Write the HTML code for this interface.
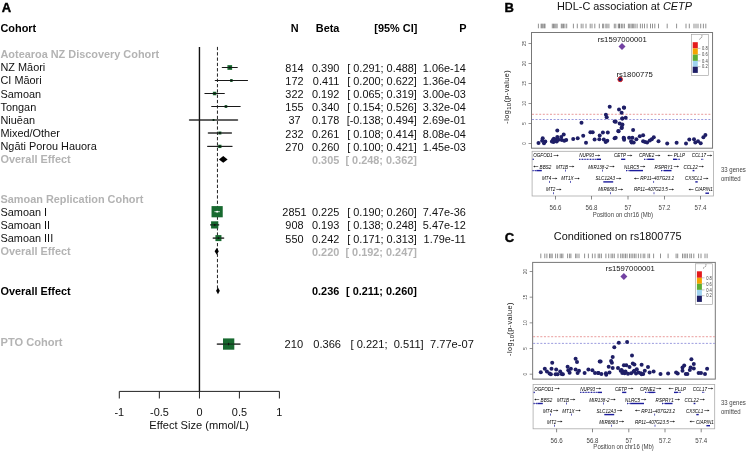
<!DOCTYPE html>
<html><head><meta charset="utf-8"><style>
html,body{margin:0;padding:0;background:#fff;}
body{width:747px;height:451px;overflow:hidden;}
svg{display:block;will-change:transform;font-family:"Liberation Sans", sans-serif;}
</style></head><body>
<svg width="747" height="451" viewBox="0 0 747 451">
<text x="1.80" y="12.20" font-size="13" text-anchor="start" font-weight="bold" font-style="normal" fill="#000" stroke="#000" stroke-width="0.4">A</text>
<text x="0.50" y="32.10" font-size="10.9" text-anchor="start" font-weight="bold" font-style="normal" fill="#000" >Cohort</text>
<text x="298.60" y="31.90" font-size="10.9" text-anchor="end" font-weight="bold" font-style="normal" fill="#000" >N</text>
<text x="339.40" y="31.90" font-size="10.9" text-anchor="end" font-weight="bold" font-style="normal" fill="#000" >Beta</text>
<text x="417.30" y="31.90" font-size="10.9" text-anchor="end" font-weight="bold" font-style="normal" fill="#000" >[95% CI]</text>
<text x="466.60" y="31.90" font-size="10.9" text-anchor="end" font-weight="bold" font-style="normal" fill="#000" >P</text>
<line x1="199.45" y1="46.9" x2="199.45" y2="391.4" stroke="#111" stroke-width="1.4"/>
<line x1="217.45" y1="46.9" x2="217.45" y2="290.5" stroke="#222" stroke-width="1" stroke-dasharray="3.3 2"/>
<text x="0.50" y="58.16" font-size="10.9" text-anchor="start" font-weight="bold" font-style="normal" fill="#b3b3b3" >Aotearoa NZ Discovery Cohort</text>
<text x="0.50" y="71.30" font-size="10.9" text-anchor="start" font-weight="normal" font-style="normal" fill="#111" >NZ Māori</text>
<text x="294.45" y="71.80" font-size="10.9" text-anchor="middle" font-weight="normal" font-style="normal" fill="#111" >814</text>
<text x="339.30" y="71.80" font-size="10.9" text-anchor="end" font-weight="normal" font-style="normal" fill="#111" >0.390</text>
<text x="416.90" y="71.80" font-size="10.9" text-anchor="end" font-weight="normal" font-style="normal" fill="#111" >[ 0.291; 0.488]</text>
<text x="465.80" y="71.80" font-size="10.9" text-anchor="end" font-weight="normal" font-style="normal" fill="#111" >1.06e-14</text>
<line x1="222.19" y1="67.50" x2="237.28" y2="67.50" stroke="#333" stroke-width="1" stroke-linecap="round"/>
<rect x="227.42" y="65.15" width="4.7" height="4.7" fill="#17692f"/>
<line x1="222.19" y1="67.50" x2="237.28" y2="67.50" stroke="#111" stroke-width="0.8"/>
<circle cx="229.77" cy="67.50" r="0.90" fill="#111"/>
<text x="0.50" y="84.44" font-size="10.9" text-anchor="start" font-weight="normal" font-style="normal" fill="#111" >CI Māori</text>
<text x="294.45" y="84.94" font-size="10.9" text-anchor="middle" font-weight="normal" font-style="normal" fill="#111" >172</text>
<text x="339.30" y="84.94" font-size="10.9" text-anchor="end" font-weight="normal" font-style="normal" fill="#111" >0.411</text>
<text x="416.90" y="84.94" font-size="10.9" text-anchor="end" font-weight="normal" font-style="normal" fill="#111" >[ 0.200; 0.622]</text>
<text x="465.80" y="84.94" font-size="10.9" text-anchor="end" font-weight="normal" font-style="normal" fill="#111" >1.36e-04</text>
<line x1="215.22" y1="80.50" x2="247.55" y2="80.50" stroke="#333" stroke-width="1" stroke-linecap="round"/>
<rect x="230.03" y="79.15" width="2.7" height="2.7" fill="#17692f"/>
<line x1="215.22" y1="80.50" x2="247.55" y2="80.50" stroke="#111" stroke-width="0.8"/>
<circle cx="231.38" cy="80.50" r="0.90" fill="#111"/>
<text x="0.50" y="97.58" font-size="10.9" text-anchor="start" font-weight="normal" font-style="normal" fill="#111" >Samoan</text>
<text x="294.45" y="98.08" font-size="10.9" text-anchor="middle" font-weight="normal" font-style="normal" fill="#111" >322</text>
<text x="339.30" y="98.08" font-size="10.9" text-anchor="end" font-weight="normal" font-style="normal" fill="#111" >0.192</text>
<text x="416.90" y="98.08" font-size="10.9" text-anchor="end" font-weight="normal" font-style="normal" fill="#111" >[ 0.065; 0.319]</text>
<text x="465.80" y="98.08" font-size="10.9" text-anchor="end" font-weight="normal" font-style="normal" fill="#111" >3.00e-03</text>
<line x1="204.88" y1="93.50" x2="224.34" y2="93.50" stroke="#333" stroke-width="1" stroke-linecap="round"/>
<rect x="212.86" y="91.75" width="3.5" height="3.5" fill="#17692f"/>
<line x1="204.88" y1="93.50" x2="224.34" y2="93.50" stroke="#111" stroke-width="0.8"/>
<circle cx="214.61" cy="93.50" r="0.90" fill="#111"/>
<text x="0.50" y="110.72" font-size="10.9" text-anchor="start" font-weight="normal" font-style="normal" fill="#111" >Tongan</text>
<text x="294.45" y="111.22" font-size="10.9" text-anchor="middle" font-weight="normal" font-style="normal" fill="#111" >155</text>
<text x="339.30" y="111.22" font-size="10.9" text-anchor="end" font-weight="normal" font-style="normal" fill="#111" >0.340</text>
<text x="416.90" y="111.22" font-size="10.9" text-anchor="end" font-weight="normal" font-style="normal" fill="#111" >[ 0.154; 0.526]</text>
<text x="465.80" y="111.22" font-size="10.9" text-anchor="end" font-weight="normal" font-style="normal" fill="#111" >3.32e-04</text>
<line x1="211.70" y1="106.50" x2="240.19" y2="106.50" stroke="#333" stroke-width="1" stroke-linecap="round"/>
<rect x="224.59" y="105.15" width="2.7" height="2.7" fill="#17692f"/>
<line x1="211.70" y1="106.50" x2="240.19" y2="106.50" stroke="#111" stroke-width="0.8"/>
<circle cx="225.94" cy="106.50" r="0.90" fill="#111"/>
<text x="0.50" y="123.86" font-size="10.9" text-anchor="start" font-weight="normal" font-style="normal" fill="#111" >Niuēan</text>
<text x="294.45" y="124.36" font-size="10.9" text-anchor="middle" font-weight="normal" font-style="normal" fill="#111" >37</text>
<text x="339.30" y="124.36" font-size="10.9" text-anchor="end" font-weight="normal" font-style="normal" fill="#111" >0.178</text>
<text x="416.90" y="124.36" font-size="10.9" text-anchor="end" font-weight="normal" font-style="normal" fill="#111" >[-0.138; 0.494]</text>
<text x="465.80" y="124.36" font-size="10.9" text-anchor="end" font-weight="normal" font-style="normal" fill="#111" >2.69e-01</text>
<line x1="189.33" y1="120.00" x2="237.74" y2="120.00" stroke="#333" stroke-width="1" stroke-linecap="round"/>
<rect x="212.53" y="119.00" width="2.0" height="2.0" fill="#17692f"/>
<line x1="189.33" y1="120.00" x2="237.74" y2="120.00" stroke="#111" stroke-width="0.8"/>
<circle cx="213.53" cy="120.00" r="0.67" fill="#111"/>
<text x="0.50" y="137.00" font-size="10.9" text-anchor="start" font-weight="normal" font-style="normal" fill="#111" >Mixed/Other</text>
<text x="294.45" y="137.50" font-size="10.9" text-anchor="middle" font-weight="normal" font-style="normal" fill="#111" >232</text>
<text x="339.30" y="137.50" font-size="10.9" text-anchor="end" font-weight="normal" font-style="normal" fill="#111" >0.261</text>
<text x="416.90" y="137.50" font-size="10.9" text-anchor="end" font-weight="normal" font-style="normal" fill="#111" >[ 0.108; 0.414]</text>
<text x="465.80" y="137.50" font-size="10.9" text-anchor="end" font-weight="normal" font-style="normal" fill="#111" >8.08e-04</text>
<line x1="208.17" y1="133.00" x2="231.61" y2="133.00" stroke="#333" stroke-width="1" stroke-linecap="round"/>
<rect x="218.39" y="131.50" width="3.0" height="3.0" fill="#17692f"/>
<line x1="208.17" y1="133.00" x2="231.61" y2="133.00" stroke="#111" stroke-width="0.8"/>
<circle cx="219.89" cy="133.00" r="0.90" fill="#111"/>
<text x="0.50" y="150.14" font-size="10.9" text-anchor="start" font-weight="normal" font-style="normal" fill="#111" >Ngāti Porou Hauora</text>
<text x="294.45" y="150.64" font-size="10.9" text-anchor="middle" font-weight="normal" font-style="normal" fill="#111" >270</text>
<text x="339.30" y="150.64" font-size="10.9" text-anchor="end" font-weight="normal" font-style="normal" fill="#111" >0.260</text>
<text x="416.90" y="150.64" font-size="10.9" text-anchor="end" font-weight="normal" font-style="normal" fill="#111" >[ 0.100; 0.421]</text>
<text x="465.80" y="150.64" font-size="10.9" text-anchor="end" font-weight="normal" font-style="normal" fill="#111" >1.45e-03</text>
<line x1="207.56" y1="146.40" x2="232.15" y2="146.40" stroke="#333" stroke-width="1" stroke-linecap="round"/>
<rect x="218.17" y="144.75" width="3.3" height="3.3" fill="#17692f"/>
<line x1="207.56" y1="146.40" x2="232.15" y2="146.40" stroke="#111" stroke-width="0.8"/>
<circle cx="219.82" cy="146.40" r="0.90" fill="#111"/>
<text x="0.50" y="163.28" font-size="10.9" text-anchor="start" font-weight="bold" font-style="normal" fill="#b3b3b3" >Overall Effect</text>
<text x="339.30" y="163.78" font-size="10.9" text-anchor="end" font-weight="bold" font-style="normal" fill="#b3b3b3" >0.305</text>
<text x="416.90" y="163.78" font-size="10.9" text-anchor="end" font-weight="bold" font-style="normal" fill="#b3b3b3" >[ 0.248; 0.362]</text>
<polygon points="218.90,159.38 223.26,155.98 227.63,159.38 223.26,162.78" fill="#000"/>
<text x="0.50" y="202.70" font-size="10.9" text-anchor="start" font-weight="bold" font-style="normal" fill="#b3b3b3" >Samoan Replication Cohort</text>
<text x="0.50" y="215.84" font-size="10.9" text-anchor="start" font-weight="normal" font-style="normal" fill="#111" >Samoan I</text>
<text x="294.45" y="216.34" font-size="10.9" text-anchor="middle" font-weight="normal" font-style="normal" fill="#111" >2851</text>
<text x="339.30" y="216.34" font-size="10.9" text-anchor="end" font-weight="normal" font-style="normal" fill="#111" >0.225</text>
<text x="416.90" y="216.34" font-size="10.9" text-anchor="end" font-weight="normal" font-style="normal" fill="#111" >[ 0.190; 0.260]</text>
<text x="465.80" y="216.34" font-size="10.9" text-anchor="end" font-weight="normal" font-style="normal" fill="#111" >7.47e-36</text>
<line x1="214.45" y1="211.70" x2="219.82" y2="211.70" stroke="#333" stroke-width="1" stroke-linecap="round"/>
<rect x="211.53" y="206.10" width="11.2" height="11.2" fill="#17692f"/>
<line x1="214.45" y1="211.70" x2="219.82" y2="211.70" stroke="#fff" stroke-width="0.8"/>
<circle cx="217.13" cy="211.70" r="0.90" fill="#fff"/>
<text x="0.50" y="228.98" font-size="10.9" text-anchor="start" font-weight="normal" font-style="normal" fill="#111" >Samoan II</text>
<text x="294.45" y="229.48" font-size="10.9" text-anchor="middle" font-weight="normal" font-style="normal" fill="#111" >908</text>
<text x="339.30" y="229.48" font-size="10.9" text-anchor="end" font-weight="normal" font-style="normal" fill="#111" >0.193</text>
<text x="416.90" y="229.48" font-size="10.9" text-anchor="end" font-weight="normal" font-style="normal" fill="#111" >[ 0.138; 0.248]</text>
<text x="465.80" y="229.48" font-size="10.9" text-anchor="end" font-weight="normal" font-style="normal" fill="#111" >5.47e-12</text>
<line x1="210.47" y1="224.90" x2="218.90" y2="224.90" stroke="#333" stroke-width="1" stroke-linecap="round"/>
<rect x="211.08" y="221.30" width="7.2" height="7.2" fill="#17692f"/>
<line x1="210.47" y1="224.90" x2="218.90" y2="224.90" stroke="#111" stroke-width="0.8"/>
<circle cx="214.68" cy="224.90" r="0.90" fill="#111"/>
<text x="0.50" y="242.12" font-size="10.9" text-anchor="start" font-weight="normal" font-style="normal" fill="#111" >Samoan III</text>
<text x="294.45" y="242.62" font-size="10.9" text-anchor="middle" font-weight="normal" font-style="normal" fill="#111" >550</text>
<text x="339.30" y="242.62" font-size="10.9" text-anchor="end" font-weight="normal" font-style="normal" fill="#111" >0.242</text>
<text x="416.90" y="242.62" font-size="10.9" text-anchor="end" font-weight="normal" font-style="normal" fill="#111" >[ 0.171; 0.313]</text>
<text x="465.80" y="242.62" font-size="10.9" text-anchor="end" font-weight="normal" font-style="normal" fill="#111" >1.79e-11</text>
<line x1="213.00" y1="238.10" x2="223.88" y2="238.10" stroke="#333" stroke-width="1" stroke-linecap="round"/>
<rect x="215.44" y="235.10" width="6.0" height="6.0" fill="#17692f"/>
<line x1="213.00" y1="238.10" x2="223.88" y2="238.10" stroke="#111" stroke-width="0.8"/>
<circle cx="218.44" cy="238.10" r="0.90" fill="#111"/>
<text x="0.50" y="255.26" font-size="10.9" text-anchor="start" font-weight="bold" font-style="normal" fill="#b3b3b3" >Overall Effect</text>
<text x="339.30" y="255.76" font-size="10.9" text-anchor="end" font-weight="bold" font-style="normal" fill="#b3b3b3" >0.220</text>
<text x="416.90" y="255.76" font-size="10.9" text-anchor="end" font-weight="bold" font-style="normal" fill="#b3b3b3" >[ 0.192; 0.247]</text>
<polygon points="214.61,251.36 216.75,247.96 218.82,251.36 216.75,254.76" fill="#000"/>
<text x="0.50" y="294.68" font-size="10.9" text-anchor="start" font-weight="bold" font-style="normal" fill="#000" >Overall Effect</text>
<text x="339.30" y="295.18" font-size="10.9" text-anchor="end" font-weight="bold" font-style="normal" fill="#000" >0.236</text>
<text x="416.90" y="295.18" font-size="10.9" text-anchor="end" font-weight="bold" font-style="normal" fill="#000" >[ 0.211; 0.260]</text>
<polygon points="216.06,290.78 217.98,287.38 219.82,290.78 217.98,294.18" fill="#000"/>
<text x="0.50" y="345.60" font-size="11.1" text-anchor="start" font-weight="bold" font-style="normal" fill="#b3b3b3" >PTO Cohort</text>
<text x="293.85" y="348.20" font-size="11.1" text-anchor="middle" font-weight="normal" font-style="normal" fill="#111" >210</text>
<text x="341.00" y="348.20" font-size="11.1" text-anchor="end" font-weight="normal" font-style="normal" fill="#111" >0.366</text>
<text x="423.70" y="348.20" font-size="11.1" text-anchor="end" font-weight="normal" font-style="normal" fill="#111" xml:space="preserve">[ 0.221;  0.511]</text>
<text x="473.80" y="348.20" font-size="11.1" text-anchor="end" font-weight="normal" font-style="normal" fill="#111" >7.77e-07</text>
<line x1="217.1" y1="344.1" x2="240.2" y2="344.1" stroke="#333" stroke-width="1" stroke-linecap="round"/>
<rect x="223.0" y="338.4" width="11.3" height="11.3" fill="#17692f"/>
<line x1="217.1" y1="344.1" x2="240.2" y2="344.1" stroke="#111" stroke-width="0.8"/>
<ellipse cx="228.6" cy="344.1" rx="0.7" ry="1.4" fill="#111"/>
<path d="M119.3 391.4 H279.4 M119.3 391.4 V398.5 M159.35 391.4 V398.5 M199.45 391.4 V398.5 M239.4 391.4 V398.5 M279.4 391.4 V398.5" stroke="#222" stroke-width="1" fill="none"/>
<text x="119.30" y="415.80" font-size="10.9" text-anchor="middle" font-weight="normal" font-style="normal" fill="#111" >-1</text>
<text x="159.40" y="415.80" font-size="10.9" text-anchor="middle" font-weight="normal" font-style="normal" fill="#111" >-0.5</text>
<text x="199.50" y="415.80" font-size="10.9" text-anchor="middle" font-weight="normal" font-style="normal" fill="#111" >0</text>
<text x="239.40" y="415.80" font-size="10.9" text-anchor="middle" font-weight="normal" font-style="normal" fill="#111" >0.5</text>
<text x="279.30" y="415.80" font-size="10.9" text-anchor="middle" font-weight="normal" font-style="normal" fill="#111" >1</text>
<text x="199.20" y="429.40" font-size="11.1" text-anchor="middle" font-weight="normal" font-style="normal" fill="#111" >Effect Size (mmol/L)</text>
<text x="504.50" y="12.20" font-size="13" text-anchor="start" font-weight="bold" font-style="normal" fill="#000" stroke="#000" stroke-width="0.4">B</text>
<text x="557.0" y="10.2" font-size="10.9" fill="#111"><tspan font-style="normal">HDL-C association at </tspan><tspan font-style="italic">CETP</tspan></text>
<path d="M538.40 23.70V28.30M541.10 23.70V28.30M542.00 23.70V28.30M543.00 23.70V28.30M544.20 23.70V28.30M545.00 23.70V28.30M552.30 23.70V28.30M553.50 23.70V28.30M554.70 23.70V28.30M555.90 23.70V28.30M557.10 23.70V28.30M561.30 23.70V28.30M562.30 23.70V28.30M563.50 23.70V28.30M564.90 23.70V28.30M566.70 23.70V28.30M573.40 23.70V28.30M577.30 23.70V28.30M581.20 23.70V28.30M583.00 23.70V28.30M586.00 23.70V28.30M590.20 23.70V28.30M592.00 23.70V28.30M594.80 23.70V28.30M599.30 23.70V28.30M602.60 23.70V28.30M603.70 23.70V28.30M605.90 23.70V28.30M607.10 23.70V28.30M608.90 23.70V28.30M614.30 23.70V28.30M615.80 23.70V28.30M619.20 23.70V28.30M618.30 23.70V28.30M619.70 23.70V28.30M621.40 23.70V28.30M622.80 23.70V28.30M624.40 23.70V28.30M628.40 23.70V28.30M629.70 23.70V28.30M631.10 23.70V28.30M632.40 23.70V28.30M633.70 23.70V28.30M635.10 23.70V28.30M637.10 23.70V28.30M640.40 23.70V28.30M642.40 23.70V28.30M644.50 23.70V28.30M647.10 23.70V28.30M650.50 23.70V28.30M652.50 23.70V28.30M654.80 23.70V28.30M658.50 23.70V28.30M667.20 23.70V28.30M676.60 23.70V28.30M686.00 23.70V28.30M689.30 23.70V28.30M694.00 23.70V28.30M696.00 23.70V28.30M698.00 23.70V28.30M700.70 23.70V28.30M703.40 23.70V28.30M705.80 23.70V28.30" stroke="#444" stroke-width="0.6" fill="none"/>
<rect x="531.5" y="32.5" width="181.04999999999995" height="115.69999999999999" fill="none" stroke="#777" stroke-width="1"/>
<line x1="528.5" y1="143.50" x2="531.5" y2="143.50" stroke="#666" stroke-width="0.7"/>
<text x="525.60" y="143.50" font-size="4.6" fill="#444" text-anchor="middle" transform="rotate(-90 525.60 143.50)">0</text>
<line x1="528.5" y1="123.50" x2="531.5" y2="123.50" stroke="#666" stroke-width="0.7"/>
<text x="525.60" y="123.50" font-size="4.6" fill="#444" text-anchor="middle" transform="rotate(-90 525.60 123.50)">5</text>
<line x1="528.5" y1="103.50" x2="531.5" y2="103.50" stroke="#666" stroke-width="0.7"/>
<text x="525.60" y="103.50" font-size="4.6" fill="#444" text-anchor="middle" transform="rotate(-90 525.60 103.50)">10</text>
<line x1="528.5" y1="83.50" x2="531.5" y2="83.50" stroke="#666" stroke-width="0.7"/>
<text x="525.60" y="83.50" font-size="4.6" fill="#444" text-anchor="middle" transform="rotate(-90 525.60 83.50)">15</text>
<line x1="528.5" y1="63.50" x2="531.5" y2="63.50" stroke="#666" stroke-width="0.7"/>
<text x="525.60" y="63.50" font-size="4.6" fill="#444" text-anchor="middle" transform="rotate(-90 525.60 63.50)">20</text>
<line x1="528.5" y1="43.50" x2="531.5" y2="43.50" stroke="#666" stroke-width="0.7"/>
<text x="525.60" y="43.50" font-size="4.6" fill="#444" text-anchor="middle" transform="rotate(-90 525.60 43.50)">25</text>
<text x="509.40" y="96.80" font-size="7.3" letter-spacing="0.42" fill="#111" text-anchor="middle" transform="rotate(-90 509.40 96.80)">-log<tspan font-size="5.8" dy="1.6">10</tspan><tspan dy="-1.6">(p-value)</tspan></text>
<line x1="532.0" y1="114.30" x2="712.05" y2="114.30" stroke="#e07070" stroke-width="0.7" stroke-dasharray="2 1.6"/>
<line x1="532.0" y1="119.50" x2="712.05" y2="119.50" stroke="#7070d0" stroke-width="0.7" stroke-dasharray="2 1.6"/>
<circle cx="538.50" cy="143.10" r="2.0" fill="#1e1e66"/>
<circle cx="542.70" cy="138.20" r="2.0" fill="#1e1e66"/>
<circle cx="542.10" cy="140.80" r="2.0" fill="#1e1e66"/>
<circle cx="544.00" cy="143.30" r="2.0" fill="#1e1e66"/>
<circle cx="545.30" cy="141.40" r="2.0" fill="#1e1e66"/>
<circle cx="552.90" cy="140.10" r="2.0" fill="#1e1e66"/>
<circle cx="553.50" cy="142.00" r="2.0" fill="#1e1e66"/>
<circle cx="555.40" cy="139.50" r="2.0" fill="#1e1e66"/>
<circle cx="556.70" cy="141.40" r="2.0" fill="#1e1e66"/>
<circle cx="557.30" cy="137.00" r="2.0" fill="#1e1e66"/>
<circle cx="557.30" cy="130.60" r="2.0" fill="#1e1e66"/>
<circle cx="561.20" cy="137.00" r="2.0" fill="#1e1e66"/>
<circle cx="561.80" cy="140.10" r="2.0" fill="#1e1e66"/>
<circle cx="563.70" cy="134.40" r="2.0" fill="#1e1e66"/>
<circle cx="564.30" cy="140.80" r="2.0" fill="#1e1e66"/>
<circle cx="566.20" cy="140.10" r="2.0" fill="#1e1e66"/>
<circle cx="573.20" cy="138.90" r="2.0" fill="#1e1e66"/>
<circle cx="577.70" cy="138.20" r="2.0" fill="#1e1e66"/>
<circle cx="581.50" cy="122.70" r="2.0" fill="#1e1e66"/>
<circle cx="583.20" cy="135.70" r="2.0" fill="#1e1e66"/>
<circle cx="586.00" cy="142.70" r="2.0" fill="#1e1e66"/>
<circle cx="590.40" cy="132.30" r="2.0" fill="#1e1e66"/>
<circle cx="592.70" cy="132.30" r="2.0" fill="#1e1e66"/>
<circle cx="594.60" cy="139.50" r="2.0" fill="#1e1e66"/>
<circle cx="599.30" cy="139.30" r="2.0" fill="#1e1e66"/>
<circle cx="599.70" cy="135.40" r="2.0" fill="#1e1e66"/>
<circle cx="602.90" cy="132.50" r="2.0" fill="#1e1e66"/>
<circle cx="603.80" cy="139.50" r="2.0" fill="#1e1e66"/>
<circle cx="605.70" cy="142.00" r="2.0" fill="#1e1e66"/>
<circle cx="607.30" cy="140.80" r="2.0" fill="#1e1e66"/>
<circle cx="607.80" cy="132.50" r="2.0" fill="#1e1e66"/>
<circle cx="605.90" cy="114.70" r="2.0" fill="#1e1e66"/>
<circle cx="606.70" cy="117.30" r="2.0" fill="#1e1e66"/>
<circle cx="609.70" cy="106.80" r="2.0" fill="#1e1e66"/>
<circle cx="614.60" cy="138.20" r="2.0" fill="#1e1e66"/>
<circle cx="614.60" cy="121.50" r="2.0" fill="#1e1e66"/>
<circle cx="618.60" cy="131.20" r="2.0" fill="#1e1e66"/>
<circle cx="619.00" cy="109.60" r="2.0" fill="#1e1e66"/>
<circle cx="619.70" cy="123.60" r="2.0" fill="#1e1e66"/>
<circle cx="621.60" cy="112.80" r="2.0" fill="#1e1e66"/>
<circle cx="622.20" cy="118.50" r="2.0" fill="#1e1e66"/>
<circle cx="622.20" cy="124.90" r="2.0" fill="#1e1e66"/>
<circle cx="621.60" cy="128.10" r="2.0" fill="#1e1e66"/>
<circle cx="623.90" cy="107.50" r="2.0" fill="#1e1e66"/>
<circle cx="623.90" cy="138.20" r="2.0" fill="#1e1e66"/>
<circle cx="624.10" cy="107.70" r="2.0" fill="#1e1e66"/>
<circle cx="622.40" cy="118.40" r="2.0" fill="#1e1e66"/>
<circle cx="625.70" cy="117.80" r="2.0" fill="#1e1e66"/>
<circle cx="615.70" cy="121.80" r="2.0" fill="#1e1e66"/>
<circle cx="622.40" cy="124.50" r="2.0" fill="#1e1e66"/>
<circle cx="621.70" cy="127.80" r="2.0" fill="#1e1e66"/>
<circle cx="618.30" cy="131.10" r="2.0" fill="#1e1e66"/>
<circle cx="633.10" cy="130.10" r="2.0" fill="#1e1e66"/>
<circle cx="615.70" cy="137.80" r="2.0" fill="#1e1e66"/>
<circle cx="623.70" cy="137.80" r="2.0" fill="#1e1e66"/>
<circle cx="624.10" cy="139.80" r="2.0" fill="#1e1e66"/>
<circle cx="629.10" cy="137.80" r="2.0" fill="#1e1e66"/>
<circle cx="631.10" cy="141.20" r="2.0" fill="#1e1e66"/>
<circle cx="632.40" cy="137.80" r="2.0" fill="#1e1e66"/>
<circle cx="633.70" cy="142.50" r="2.0" fill="#1e1e66"/>
<circle cx="636.40" cy="139.20" r="2.0" fill="#1e1e66"/>
<circle cx="639.80" cy="136.20" r="2.0" fill="#1e1e66"/>
<circle cx="643.10" cy="135.20" r="2.0" fill="#1e1e66"/>
<circle cx="643.10" cy="141.20" r="2.0" fill="#1e1e66"/>
<circle cx="647.10" cy="142.50" r="2.0" fill="#1e1e66"/>
<circle cx="649.80" cy="140.50" r="2.0" fill="#1e1e66"/>
<circle cx="651.80" cy="139.20" r="2.0" fill="#1e1e66"/>
<circle cx="653.80" cy="137.20" r="2.0" fill="#1e1e66"/>
<circle cx="658.50" cy="141.20" r="2.0" fill="#1e1e66"/>
<circle cx="667.20" cy="143.50" r="2.0" fill="#1e1e66"/>
<circle cx="676.60" cy="142.80" r="2.0" fill="#1e1e66"/>
<circle cx="686.00" cy="143.50" r="2.0" fill="#1e1e66"/>
<circle cx="689.30" cy="139.40" r="2.0" fill="#1e1e66"/>
<circle cx="694.00" cy="139.20" r="2.0" fill="#1e1e66"/>
<circle cx="695.30" cy="142.50" r="2.0" fill="#1e1e66"/>
<circle cx="698.00" cy="141.20" r="2.0" fill="#1e1e66"/>
<circle cx="700.70" cy="143.20" r="2.0" fill="#1e1e66"/>
<circle cx="703.40" cy="137.20" r="2.0" fill="#1e1e66"/>
<circle cx="705.40" cy="134.90" r="2.0" fill="#1e1e66"/>
<circle cx="631.70" cy="142.50" r="2.0" fill="#1e1e66"/>
<circle cx="645.10" cy="141.90" r="2.0" fill="#1e1e66"/>
<circle cx="554.50" cy="141.00" r="2.0" fill="#1e1e66"/>
<circle cx="553.80" cy="138.70" r="2.0" fill="#1e1e66"/>
<circle cx="551.90" cy="141.60" r="2.0" fill="#1e1e66"/>
<circle cx="558.50" cy="139.80" r="2.0" fill="#1e1e66"/>
<polygon points="618.5,46.4 622.0,42.9 625.5,46.4 622.0,49.9" fill="#7342a3"/>
<text x="622.30" y="41.60" font-size="7.7" text-anchor="middle" font-weight="normal" font-style="normal" fill="#111" >rs1597000001</text>
<circle cx="620.2" cy="79.4" r="2.3" fill="#1e1e66" stroke="#e02020" stroke-width="1"/>
<text x="634.60" y="76.60" font-size="7.7" text-anchor="middle" font-weight="normal" font-style="normal" fill="#111" >rs1800775</text>
<rect x="691.6" y="34.6" width="16.899999999999977" height="40.99999999999999" fill="#fff" stroke="#999" stroke-width="0.6"/>
<rect x="692.7" y="42.20" width="5.099999999999909" height="6.20" fill="#e41a1c"/>
<rect x="692.7" y="48.40" width="5.099999999999909" height="6.20" fill="#f5a300"/>
<rect x="692.7" y="54.60" width="5.099999999999909" height="6.30" fill="#5cad32"/>
<rect x="692.7" y="60.90" width="5.099999999999909" height="5.80" fill="#9fd3f0"/>
<rect x="692.7" y="66.70" width="5.099999999999909" height="6.20" fill="#1e1e66"/>
<line x1="697.8" y1="48.40" x2="700.4" y2="48.40" stroke="#888" stroke-width="0.5"/>
<text transform="translate(704.90 50.15) scale(0.82 1)" font-size="5.0" fill="#444" text-anchor="middle">0.8</text>
<line x1="697.8" y1="54.60" x2="700.4" y2="54.60" stroke="#888" stroke-width="0.5"/>
<text transform="translate(704.90 56.35) scale(0.82 1)" font-size="5.0" fill="#444" text-anchor="middle">0.6</text>
<line x1="697.8" y1="60.90" x2="700.4" y2="60.90" stroke="#888" stroke-width="0.5"/>
<text transform="translate(704.90 62.65) scale(0.82 1)" font-size="5.0" fill="#444" text-anchor="middle">0.4</text>
<line x1="697.8" y1="66.70" x2="700.4" y2="66.70" stroke="#888" stroke-width="0.5"/>
<text transform="translate(704.90 68.45) scale(0.82 1)" font-size="5.0" fill="#444" text-anchor="middle">0.2</text>
<text x="699.45" y="39.50" font-size="4" fill="#555" font-style="italic">r<tspan font-size="3" dy="-1.3">2</tspan></text>
<rect x="532.1" y="151.3" width="181.5" height="44.69999999999999" fill="none" stroke="#aaa" stroke-width="0.8"/>
<text x="533.20" y="157.40" font-size="4.6" font-style="italic" fill="#000">OGFOD1</text>
<path d="M553.62 155.50H557.82" stroke="#222" stroke-width="0.6" fill="none"/><path d="M557.02 154.60L558.82 155.50L557.02 156.40Z" fill="#222"/>
<rect x="532.60" y="158.60" width="1.20" height="1.4" fill="#1c1c9c"/>
<text x="579.20" y="157.40" font-size="4.6" font-style="italic" fill="#000">NUP93</text>
<path d="M595.03 155.50H599.23" stroke="#222" stroke-width="0.6" fill="none"/><path d="M598.43 154.60L600.23 155.50L598.43 156.40Z" fill="#222"/>
<line x1="579.20" y1="159.30" x2="597.00" y2="159.30" stroke="#1c1c9c" stroke-width="0.45"/>
<line x1="579.20" y1="159.30" x2="597.00" y2="159.30" stroke="#1c1c9c" stroke-width="1.3" stroke-dasharray="0.9 1.8"/>
<rect x="597.00" y="158.60" width="4.00" height="1.4" fill="#1c1c9c"/>
<text x="613.90" y="157.40" font-size="4.6" font-style="italic" fill="#000">CETP</text>
<path d="M627.17 155.50H631.37" stroke="#222" stroke-width="0.6" fill="none"/><path d="M630.57 154.60L632.37 155.50L630.57 156.40Z" fill="#222"/>
<rect x="621.10" y="158.60" width="4.20" height="1.4" fill="#1c1c9c"/>
<text x="638.90" y="157.40" font-size="4.6" font-style="italic" fill="#000">CPNE2</text>
<path d="M655.24 155.50H659.44" stroke="#222" stroke-width="0.6" fill="none"/><path d="M658.64 154.60L660.44 155.50L658.64 156.40Z" fill="#222"/>
<line x1="644.10" y1="159.30" x2="648.00" y2="159.30" stroke="#1c1c9c" stroke-width="0.45"/>
<line x1="644.10" y1="159.30" x2="648.00" y2="159.30" stroke="#1c1c9c" stroke-width="1.3" stroke-dasharray="0.9 1.8"/>
<rect x="648.00" y="158.60" width="5.00" height="1.4" fill="#1c1c9c"/>
<line x1="653.00" y1="159.30" x2="655.00" y2="159.30" stroke="#1c1c9c" stroke-width="0.45"/>
<line x1="653.00" y1="159.30" x2="655.00" y2="159.30" stroke="#1c1c9c" stroke-width="1.3" stroke-dasharray="0.9 1.8"/>
<path d="M672.40 155.50H668.40" stroke="#222" stroke-width="0.6" fill="none"/><path d="M669.20 154.60L667.40 155.50L669.20 156.40Z" fill="#222"/>
<text x="673.80" y="157.40" font-size="4.6" font-style="italic" fill="#000">PLLP</text>
<rect x="673.00" y="158.60" width="3.00" height="1.4" fill="#1c1c9c"/>
<line x1="676.00" y1="159.30" x2="679.70" y2="159.30" stroke="#1c1c9c" stroke-width="0.45"/>
<line x1="676.00" y1="159.30" x2="679.70" y2="159.30" stroke="#1c1c9c" stroke-width="1.3" stroke-dasharray="0.9 1.8"/>
<text x="691.70" y="157.40" font-size="4.6" font-style="italic" fill="#000">CCL17</text>
<path d="M707.02 155.50H711.22" stroke="#222" stroke-width="0.6" fill="none"/><path d="M710.42 154.60L712.22 155.50L710.42 156.40Z" fill="#222"/>
<line x1="701.40" y1="159.30" x2="703.60" y2="159.30" stroke="#1c1c9c" stroke-width="0.45"/>
<line x1="701.40" y1="159.30" x2="703.60" y2="159.30" stroke="#1c1c9c" stroke-width="1.3" stroke-dasharray="0.9 1.8"/>
<path d="M538.20 166.50H534.20" stroke="#222" stroke-width="0.6" fill="none"/><path d="M535.00 165.60L533.20 166.50L535.00 167.40Z" fill="#222"/>
<text x="539.60" y="168.70" font-size="4.6" font-style="italic" fill="#000">BBS2</text>
<line x1="532.60" y1="170.60" x2="536.50" y2="170.60" stroke="#1c1c9c" stroke-width="0.45"/>
<line x1="532.60" y1="170.60" x2="536.50" y2="170.60" stroke="#1c1c9c" stroke-width="1.3" stroke-dasharray="0.9 1.8"/>
<rect x="536.50" y="169.90" width="5.30" height="1.4" fill="#1c1c9c"/>
<text x="555.90" y="168.70" font-size="4.6" font-style="italic" fill="#000">MT1B</text>
<path d="M569.17 166.50H573.37" stroke="#222" stroke-width="0.6" fill="none"/><path d="M572.57 165.60L574.37 166.50L572.57 167.40Z" fill="#222"/>
<rect x="565.05" y="169.60" width="0.7" height="2" fill="#1c1c9c"/>
<text x="588.30" y="168.70" font-size="4.6" font-style="italic" fill="#000">MIR138-2</text>
<path d="M609.50 166.50H613.70" stroke="#222" stroke-width="0.6" fill="none"/><path d="M612.90 165.60L614.70 166.50L612.90 167.40Z" fill="#222"/>
<rect x="602.15" y="169.60" width="0.7" height="2" fill="#1c1c9c"/>
<text x="624.10" y="168.70" font-size="4.6" font-style="italic" fill="#000">NLRC5</text>
<path d="M640.18 166.50H644.38" stroke="#222" stroke-width="0.6" fill="none"/><path d="M643.58 165.60L645.38 166.50L643.58 167.40Z" fill="#222"/>
<line x1="626.10" y1="170.60" x2="630.00" y2="170.60" stroke="#1c1c9c" stroke-width="0.45"/>
<line x1="626.10" y1="170.60" x2="630.00" y2="170.60" stroke="#1c1c9c" stroke-width="1.3" stroke-dasharray="0.9 1.8"/>
<rect x="630.00" y="169.90" width="13.00" height="1.4" fill="#1c1c9c"/>
<text x="654.60" y="168.70" font-size="4.6" font-style="italic" fill="#000">RSPRY1</text>
<path d="M673.84 166.50H678.04" stroke="#222" stroke-width="0.6" fill="none"/><path d="M677.24 165.60L679.04 166.50L677.24 167.40Z" fill="#222"/>
<line x1="661.00" y1="170.60" x2="664.00" y2="170.60" stroke="#1c1c9c" stroke-width="0.45"/>
<line x1="661.00" y1="170.60" x2="664.00" y2="170.60" stroke="#1c1c9c" stroke-width="1.3" stroke-dasharray="0.9 1.8"/>
<rect x="664.00" y="169.90" width="7.50" height="1.4" fill="#1c1c9c"/>
<text x="683.40" y="168.70" font-size="4.6" font-style="italic" fill="#000">CCL22</text>
<path d="M698.72 166.50H702.92" stroke="#222" stroke-width="0.6" fill="none"/><path d="M702.12 165.60L703.92 166.50L702.12 167.40Z" fill="#222"/>
<rect x="692.60" y="169.90" width="1.80" height="1.4" fill="#1c1c9c"/>
<text x="542.00" y="180.00" font-size="4.6" font-style="italic" fill="#000">MT4</text>
<path d="M552.20 178.50H556.40" stroke="#222" stroke-width="0.6" fill="none"/><path d="M555.60 177.60L557.40 178.50L555.60 179.40Z" fill="#222"/>
<rect x="549.15" y="180.90" width="0.7" height="2" fill="#1c1c9c"/>
<text x="561.30" y="180.00" font-size="4.6" font-style="italic" fill="#000">MT1X</text>
<path d="M574.57 178.50H578.77" stroke="#222" stroke-width="0.6" fill="none"/><path d="M577.97 177.60L579.77 178.50L577.97 179.40Z" fill="#222"/>
<rect x="570.25" y="180.90" width="0.7" height="2" fill="#1c1c9c"/>
<text x="595.50" y="180.00" font-size="4.6" font-style="italic" fill="#000">SLC12A3</text>
<path d="M616.19 178.50H620.39" stroke="#222" stroke-width="0.6" fill="none"/><path d="M619.59 177.60L621.39 178.50L619.59 179.40Z" fill="#222"/>
<rect x="603.30" y="181.20" width="9.90" height="1.4" fill="#1c1c9c"/>
<path d="M638.90 178.50H634.90" stroke="#222" stroke-width="0.6" fill="none"/><path d="M635.70 177.60L633.90 178.50L635.70 179.40Z" fill="#222"/>
<text x="640.30" y="180.00" font-size="4.6" font-style="italic" fill="#000">RP11–407G23.2</text>
<rect x="653.35" y="180.90" width="0.7" height="2" fill="#1c1c9c"/>
<text x="684.90" y="180.00" font-size="4.6" font-style="italic" fill="#000">CX3CL1</text>
<path d="M703.29 178.50H707.49" stroke="#222" stroke-width="0.6" fill="none"/><path d="M706.69 177.60L708.49 178.50L706.69 179.40Z" fill="#222"/>
<rect x="695.30" y="181.20" width="2.40" height="1.4" fill="#1c1c9c"/>
<text x="546.10" y="191.30" font-size="4.6" font-style="italic" fill="#000">MT2</text>
<path d="M556.30 189.50H560.50" stroke="#222" stroke-width="0.6" fill="none"/><path d="M559.70 188.60L561.50 189.50L559.70 190.40Z" fill="#222"/>
<rect x="553.15" y="192.20" width="0.7" height="2" fill="#1c1c9c"/>
<text x="598.30" y="191.30" font-size="4.6" font-style="italic" fill="#000">MIR6863</text>
<path d="M617.97 189.50H622.17" stroke="#222" stroke-width="0.6" fill="none"/><path d="M621.37 188.60L623.17 189.50L621.37 190.40Z" fill="#222"/>
<rect x="610.15" y="192.20" width="0.7" height="2" fill="#1c1c9c"/>
<text x="633.90" y="191.30" font-size="4.6" font-style="italic" fill="#000">RP11–407G23.5</text>
<path d="M668.83 189.50H673.03" stroke="#222" stroke-width="0.6" fill="none"/><path d="M672.23 188.60L674.03 189.50L672.23 190.40Z" fill="#222"/>
<rect x="653.65" y="192.20" width="0.7" height="2" fill="#1c1c9c"/>
<path d="M693.50 189.50H689.50" stroke="#222" stroke-width="0.6" fill="none"/><path d="M690.30 188.60L688.50 189.50L690.30 190.40Z" fill="#222"/>
<text x="694.90" y="191.30" font-size="4.6" font-style="italic" fill="#000">CIAPIN1</text>
<rect x="705.40" y="192.50" width="3.60" height="1.4" fill="#1c1c9c"/>
<line x1="555.5" y1="196.0" x2="555.5" y2="199.5" stroke="#555" stroke-width="0.7"/>
<text transform="translate(555.50 210.00) scale(0.88 1)" font-size="7.0" fill="#444" text-anchor="middle">56.6</text>
<line x1="591.5" y1="196.0" x2="591.5" y2="199.5" stroke="#555" stroke-width="0.7"/>
<text transform="translate(591.50 210.00) scale(0.88 1)" font-size="7.0" fill="#444" text-anchor="middle">56.8</text>
<line x1="628.0" y1="196.0" x2="628.0" y2="199.5" stroke="#555" stroke-width="0.7"/>
<text transform="translate(628.00 210.00) scale(0.88 1)" font-size="7.0" fill="#444" text-anchor="middle">57</text>
<line x1="664.5" y1="196.0" x2="664.5" y2="199.5" stroke="#555" stroke-width="0.7"/>
<text transform="translate(664.50 210.00) scale(0.88 1)" font-size="7.0" fill="#444" text-anchor="middle">57.2</text>
<line x1="700.5" y1="196.0" x2="700.5" y2="199.5" stroke="#555" stroke-width="0.7"/>
<text transform="translate(700.50 210.00) scale(0.88 1)" font-size="7.0" fill="#444" text-anchor="middle">57.4</text>
<text transform="translate(622.90 216.60) scale(0.86 1)" font-size="7.0" fill="#444" text-anchor="middle">Position on chr16 (Mb)</text>
<text transform="translate(720.90 172.00) scale(0.865 1)" font-size="7.0" fill="#444" text-anchor="start">33 genes</text>
<text transform="translate(720.90 181.00) scale(0.865 1)" font-size="7.0" fill="#444" text-anchor="start">omitted</text>
<text x="504.70" y="242.00" font-size="13" text-anchor="start" font-weight="bold" font-style="normal" fill="#000" stroke="#000" stroke-width="0.4">C</text>
<text x="553.8" y="240.4" font-size="10.9" fill="#111"><tspan font-style="normal">Conditioned on rs1800775</tspan></text>
<path d="M540.80 253.60V258.20M544.80 253.60V258.20M546.90 253.60V258.20M549.50 253.60V258.20M550.90 253.60V258.20M552.20 253.60V258.20M555.60 253.60V258.20M557.60 253.60V258.20M560.20 253.60V258.20M561.60 253.60V258.20M562.90 253.60V258.20M567.60 253.60V258.20M569.60 253.60V258.20M570.90 253.60V258.20M575.60 253.60V258.20M577.00 253.60V258.20M579.00 253.60V258.20M584.60 253.60V258.20M588.40 253.60V258.20M592.40 253.60V258.20M595.00 253.60V258.20M598.20 253.60V258.20M599.70 253.60V258.20M601.40 253.60V258.20M605.90 253.60V258.20M608.70 253.60V258.20M611.10 253.60V258.20M612.70 253.60V258.20M614.30 253.60V258.20M618.00 253.60V258.20M620.70 253.60V258.20M622.30 253.60V258.20M623.90 253.60V258.20M625.50 253.60V258.20M627.10 253.60V258.20M629.50 253.60V258.20M631.10 253.60V258.20M632.80 253.60V258.20M634.40 253.60V258.20M636.00 253.60V258.20M638.40 253.60V258.20M640.80 253.60V258.20M643.20 253.60V258.20M644.80 253.60V258.20M648.00 253.60V258.20M649.60 253.60V258.20M653.60 253.60V258.20M660.50 253.60V258.20M668.10 253.60V258.20M676.10 253.60V258.20M677.70 253.60V258.20M682.50 253.60V258.20M684.20 253.60V258.20M685.80 253.60V258.20M687.40 253.60V258.20M689.80 253.60V258.20M691.40 253.60V258.20M693.80 253.60V258.20M698.60 253.60V258.20M701.00 253.60V258.20M705.00 253.60V258.20M707.10 253.60V258.20" stroke="#444" stroke-width="0.6" fill="none"/>
<rect x="532.65" y="262.4" width="182.64999999999998" height="116.70000000000005" fill="none" stroke="#777" stroke-width="1"/>
<line x1="529.65" y1="374.20" x2="532.65" y2="374.20" stroke="#666" stroke-width="0.7"/>
<text x="526.75" y="374.20" font-size="4.6" fill="#444" text-anchor="middle" transform="rotate(-90 526.75 374.20)">0</text>
<line x1="529.65" y1="348.52" x2="532.65" y2="348.52" stroke="#666" stroke-width="0.7"/>
<text x="526.75" y="348.52" font-size="4.6" fill="#444" text-anchor="middle" transform="rotate(-90 526.75 348.52)">5</text>
<line x1="529.65" y1="322.85" x2="532.65" y2="322.85" stroke="#666" stroke-width="0.7"/>
<text x="526.75" y="322.85" font-size="4.6" fill="#444" text-anchor="middle" transform="rotate(-90 526.75 322.85)">10</text>
<line x1="529.65" y1="297.18" x2="532.65" y2="297.18" stroke="#666" stroke-width="0.7"/>
<text x="526.75" y="297.18" font-size="4.6" fill="#444" text-anchor="middle" transform="rotate(-90 526.75 297.18)">15</text>
<line x1="529.65" y1="271.50" x2="532.65" y2="271.50" stroke="#666" stroke-width="0.7"/>
<text x="526.75" y="271.50" font-size="4.6" fill="#444" text-anchor="middle" transform="rotate(-90 526.75 271.50)">20</text>
<text x="512.05" y="329.00" font-size="7.3" letter-spacing="0.42" fill="#111" text-anchor="middle" transform="rotate(-90 512.05 329.00)">-log<tspan font-size="5.8" dy="1.6">10</tspan><tspan dy="-1.6">(p-value)</tspan></text>
<line x1="533.15" y1="336.71" x2="714.8" y2="336.71" stroke="#e07070" stroke-width="0.7" stroke-dasharray="2 1.6"/>
<line x1="533.15" y1="343.39" x2="714.8" y2="343.39" stroke="#7070d0" stroke-width="0.7" stroke-dasharray="2 1.6"/>
<circle cx="540.80" cy="372.20" r="2.0" fill="#1e1e66"/>
<circle cx="544.80" cy="368.80" r="2.0" fill="#1e1e66"/>
<circle cx="546.90" cy="371.50" r="2.0" fill="#1e1e66"/>
<circle cx="549.50" cy="373.50" r="2.0" fill="#1e1e66"/>
<circle cx="550.90" cy="374.20" r="2.0" fill="#1e1e66"/>
<circle cx="551.50" cy="368.80" r="2.0" fill="#1e1e66"/>
<circle cx="552.20" cy="362.80" r="2.0" fill="#1e1e66"/>
<circle cx="556.20" cy="369.50" r="2.0" fill="#1e1e66"/>
<circle cx="555.60" cy="374.20" r="2.0" fill="#1e1e66"/>
<circle cx="557.60" cy="374.20" r="2.0" fill="#1e1e66"/>
<circle cx="560.20" cy="371.50" r="2.0" fill="#1e1e66"/>
<circle cx="561.60" cy="373.90" r="2.0" fill="#1e1e66"/>
<circle cx="562.90" cy="374.20" r="2.0" fill="#1e1e66"/>
<circle cx="567.60" cy="366.80" r="2.0" fill="#1e1e66"/>
<circle cx="568.30" cy="370.20" r="2.0" fill="#1e1e66"/>
<circle cx="569.60" cy="372.80" r="2.0" fill="#1e1e66"/>
<circle cx="570.90" cy="368.80" r="2.0" fill="#1e1e66"/>
<circle cx="575.60" cy="358.80" r="2.0" fill="#1e1e66"/>
<circle cx="577.00" cy="362.10" r="2.0" fill="#1e1e66"/>
<circle cx="575.60" cy="369.50" r="2.0" fill="#1e1e66"/>
<circle cx="579.00" cy="370.80" r="2.0" fill="#1e1e66"/>
<circle cx="577.60" cy="373.10" r="2.0" fill="#1e1e66"/>
<circle cx="584.60" cy="373.10" r="2.0" fill="#1e1e66"/>
<circle cx="588.40" cy="369.50" r="2.0" fill="#1e1e66"/>
<circle cx="592.40" cy="370.20" r="2.0" fill="#1e1e66"/>
<circle cx="595.00" cy="373.10" r="2.0" fill="#1e1e66"/>
<circle cx="598.40" cy="373.10" r="2.0" fill="#1e1e66"/>
<circle cx="599.70" cy="361.50" r="2.0" fill="#1e1e66"/>
<circle cx="598.20" cy="372.90" r="2.0" fill="#1e1e66"/>
<circle cx="601.40" cy="374.00" r="2.0" fill="#1e1e66"/>
<circle cx="605.90" cy="373.20" r="2.0" fill="#1e1e66"/>
<circle cx="606.20" cy="374.80" r="2.0" fill="#1e1e66"/>
<circle cx="609.50" cy="372.40" r="2.0" fill="#1e1e66"/>
<circle cx="600.60" cy="361.60" r="2.0" fill="#1e1e66"/>
<circle cx="608.70" cy="366.80" r="2.0" fill="#1e1e66"/>
<circle cx="611.10" cy="361.10" r="2.0" fill="#1e1e66"/>
<circle cx="611.90" cy="362.80" r="2.0" fill="#1e1e66"/>
<circle cx="612.70" cy="357.10" r="2.0" fill="#1e1e66"/>
<circle cx="612.70" cy="368.00" r="2.0" fill="#1e1e66"/>
<circle cx="614.30" cy="347.20" r="2.0" fill="#1e1e66"/>
<circle cx="618.80" cy="342.70" r="2.0" fill="#1e1e66"/>
<circle cx="627.10" cy="341.90" r="2.0" fill="#1e1e66"/>
<circle cx="618.00" cy="368.00" r="2.0" fill="#1e1e66"/>
<circle cx="621.50" cy="370.00" r="2.0" fill="#1e1e66"/>
<circle cx="623.10" cy="371.60" r="2.0" fill="#1e1e66"/>
<circle cx="623.90" cy="365.20" r="2.0" fill="#1e1e66"/>
<circle cx="626.30" cy="365.20" r="2.0" fill="#1e1e66"/>
<circle cx="624.70" cy="373.20" r="2.0" fill="#1e1e66"/>
<circle cx="629.50" cy="367.10" r="2.0" fill="#1e1e66"/>
<circle cx="632.00" cy="355.50" r="2.0" fill="#1e1e66"/>
<circle cx="632.80" cy="363.60" r="2.0" fill="#1e1e66"/>
<circle cx="634.40" cy="364.40" r="2.0" fill="#1e1e66"/>
<circle cx="631.10" cy="373.20" r="2.0" fill="#1e1e66"/>
<circle cx="633.60" cy="371.60" r="2.0" fill="#1e1e66"/>
<circle cx="636.80" cy="369.20" r="2.0" fill="#1e1e66"/>
<circle cx="638.40" cy="372.40" r="2.0" fill="#1e1e66"/>
<circle cx="641.60" cy="364.80" r="2.0" fill="#1e1e66"/>
<circle cx="640.80" cy="373.20" r="2.0" fill="#1e1e66"/>
<circle cx="643.20" cy="374.00" r="2.0" fill="#1e1e66"/>
<circle cx="644.80" cy="370.80" r="2.0" fill="#1e1e66"/>
<circle cx="648.00" cy="367.10" r="2.0" fill="#1e1e66"/>
<circle cx="649.60" cy="372.40" r="2.0" fill="#1e1e66"/>
<circle cx="653.60" cy="371.60" r="2.0" fill="#1e1e66"/>
<circle cx="660.50" cy="374.00" r="2.0" fill="#1e1e66"/>
<circle cx="668.10" cy="373.50" r="2.0" fill="#1e1e66"/>
<circle cx="676.10" cy="372.40" r="2.0" fill="#1e1e66"/>
<circle cx="677.70" cy="373.50" r="2.0" fill="#1e1e66"/>
<circle cx="682.50" cy="367.60" r="2.0" fill="#1e1e66"/>
<circle cx="684.20" cy="365.50" r="2.0" fill="#1e1e66"/>
<circle cx="682.50" cy="370.80" r="2.0" fill="#1e1e66"/>
<circle cx="685.80" cy="374.00" r="2.0" fill="#1e1e66"/>
<circle cx="687.40" cy="374.00" r="2.0" fill="#1e1e66"/>
<circle cx="689.80" cy="370.00" r="2.0" fill="#1e1e66"/>
<circle cx="690.60" cy="367.60" r="2.0" fill="#1e1e66"/>
<circle cx="691.40" cy="359.20" r="2.0" fill="#1e1e66"/>
<circle cx="693.80" cy="363.90" r="2.0" fill="#1e1e66"/>
<circle cx="693.80" cy="368.40" r="2.0" fill="#1e1e66"/>
<circle cx="698.60" cy="372.90" r="2.0" fill="#1e1e66"/>
<circle cx="701.00" cy="372.90" r="2.0" fill="#1e1e66"/>
<circle cx="705.00" cy="374.00" r="2.0" fill="#1e1e66"/>
<circle cx="707.10" cy="368.70" r="2.0" fill="#1e1e66"/>
<circle cx="620.70" cy="370.80" r="2.0" fill="#1e1e66"/>
<circle cx="622.30" cy="372.90" r="2.0" fill="#1e1e66"/>
<circle cx="625.50" cy="371.60" r="2.0" fill="#1e1e66"/>
<circle cx="634.40" cy="370.80" r="2.0" fill="#1e1e66"/>
<circle cx="641.60" cy="374.20" r="2.0" fill="#1e1e66"/>
<circle cx="628.00" cy="373.80" r="2.0" fill="#1e1e66"/>
<circle cx="636.00" cy="373.50" r="2.0" fill="#1e1e66"/>
<polygon points="620.4,276.4 623.9,272.9 627.4,276.4 623.9,279.9" fill="#7342a3"/>
<text x="630.20" y="270.60" font-size="7.7" text-anchor="middle" font-weight="normal" font-style="normal" fill="#111" >rs1597000001</text>
<rect x="695.4" y="263.8" width="17.0" height="40.599999999999966" fill="#fff" stroke="#999" stroke-width="0.6"/>
<rect x="696.9" y="271.30" width="5.0" height="6.50" fill="#e41a1c"/>
<rect x="696.9" y="277.80" width="5.0" height="6.00" fill="#f5a300"/>
<rect x="696.9" y="283.80" width="5.0" height="6.10" fill="#5cad32"/>
<rect x="696.9" y="289.90" width="5.0" height="5.80" fill="#9fd3f0"/>
<rect x="696.9" y="295.70" width="5.0" height="6.20" fill="#1e1e66"/>
<line x1="701.9" y1="277.80" x2="704.5" y2="277.80" stroke="#888" stroke-width="0.5"/>
<text transform="translate(709.00 279.55) scale(0.82 1)" font-size="5.0" fill="#444" text-anchor="middle">0.8</text>
<line x1="701.9" y1="283.80" x2="704.5" y2="283.80" stroke="#888" stroke-width="0.5"/>
<text transform="translate(709.00 285.55) scale(0.82 1)" font-size="5.0" fill="#444" text-anchor="middle">0.6</text>
<line x1="701.9" y1="289.90" x2="704.5" y2="289.90" stroke="#888" stroke-width="0.5"/>
<text transform="translate(709.00 291.65) scale(0.82 1)" font-size="5.0" fill="#444" text-anchor="middle">0.4</text>
<line x1="701.9" y1="295.70" x2="704.5" y2="295.70" stroke="#888" stroke-width="0.5"/>
<text transform="translate(709.00 297.45) scale(0.82 1)" font-size="5.0" fill="#444" text-anchor="middle">0.2</text>
<text x="703.30" y="268.70" font-size="4" fill="#555" font-style="italic">r<tspan font-size="3" dy="-1.3">2</tspan></text>
<rect x="533.1" y="384.4" width="181.60000000000002" height="44.400000000000034" fill="none" stroke="#aaa" stroke-width="0.8"/>
<text x="534.20" y="390.50" font-size="4.6" font-style="italic" fill="#000">OGFOD1</text>
<path d="M554.62 388.50H558.82" stroke="#222" stroke-width="0.6" fill="none"/><path d="M558.02 387.60L559.82 388.50L558.02 389.40Z" fill="#222"/>
<rect x="533.60" y="391.70" width="1.20" height="1.4" fill="#1c1c9c"/>
<text x="580.20" y="390.50" font-size="4.6" font-style="italic" fill="#000">NUP93</text>
<path d="M596.03 388.50H600.23" stroke="#222" stroke-width="0.6" fill="none"/><path d="M599.43 387.60L601.23 388.50L599.43 389.40Z" fill="#222"/>
<line x1="580.20" y1="392.40" x2="598.00" y2="392.40" stroke="#1c1c9c" stroke-width="0.45"/>
<line x1="580.20" y1="392.40" x2="598.00" y2="392.40" stroke="#1c1c9c" stroke-width="1.3" stroke-dasharray="0.9 1.8"/>
<rect x="598.00" y="391.70" width="4.00" height="1.4" fill="#1c1c9c"/>
<text x="614.90" y="390.50" font-size="4.6" font-style="italic" fill="#000">CETP</text>
<path d="M628.17 388.50H632.37" stroke="#222" stroke-width="0.6" fill="none"/><path d="M631.57 387.60L633.37 388.50L631.57 389.40Z" fill="#222"/>
<rect x="622.10" y="391.70" width="4.20" height="1.4" fill="#1c1c9c"/>
<text x="639.90" y="390.50" font-size="4.6" font-style="italic" fill="#000">CPNE2</text>
<path d="M656.24 388.50H660.44" stroke="#222" stroke-width="0.6" fill="none"/><path d="M659.64 387.60L661.44 388.50L659.64 389.40Z" fill="#222"/>
<line x1="645.10" y1="392.40" x2="649.00" y2="392.40" stroke="#1c1c9c" stroke-width="0.45"/>
<line x1="645.10" y1="392.40" x2="649.00" y2="392.40" stroke="#1c1c9c" stroke-width="1.3" stroke-dasharray="0.9 1.8"/>
<rect x="649.00" y="391.70" width="5.00" height="1.4" fill="#1c1c9c"/>
<line x1="654.00" y1="392.40" x2="656.00" y2="392.40" stroke="#1c1c9c" stroke-width="0.45"/>
<line x1="654.00" y1="392.40" x2="656.00" y2="392.40" stroke="#1c1c9c" stroke-width="1.3" stroke-dasharray="0.9 1.8"/>
<path d="M673.40 388.50H669.40" stroke="#222" stroke-width="0.6" fill="none"/><path d="M670.20 387.60L668.40 388.50L670.20 389.40Z" fill="#222"/>
<text x="674.80" y="390.50" font-size="4.6" font-style="italic" fill="#000">PLLP</text>
<rect x="674.00" y="391.70" width="3.00" height="1.4" fill="#1c1c9c"/>
<line x1="677.00" y1="392.40" x2="680.70" y2="392.40" stroke="#1c1c9c" stroke-width="0.45"/>
<line x1="677.00" y1="392.40" x2="680.70" y2="392.40" stroke="#1c1c9c" stroke-width="1.3" stroke-dasharray="0.9 1.8"/>
<text x="692.70" y="390.50" font-size="4.6" font-style="italic" fill="#000">CCL17</text>
<path d="M708.02 388.50H712.22" stroke="#222" stroke-width="0.6" fill="none"/><path d="M711.42 387.60L713.22 388.50L711.42 389.40Z" fill="#222"/>
<line x1="702.40" y1="392.40" x2="704.60" y2="392.40" stroke="#1c1c9c" stroke-width="0.45"/>
<line x1="702.40" y1="392.40" x2="704.60" y2="392.40" stroke="#1c1c9c" stroke-width="1.3" stroke-dasharray="0.9 1.8"/>
<path d="M539.20 399.50H535.20" stroke="#222" stroke-width="0.6" fill="none"/><path d="M536.00 398.60L534.20 399.50L536.00 400.40Z" fill="#222"/>
<text x="540.60" y="401.60" font-size="4.6" font-style="italic" fill="#000">BBS2</text>
<line x1="533.60" y1="403.50" x2="537.50" y2="403.50" stroke="#1c1c9c" stroke-width="0.45"/>
<line x1="533.60" y1="403.50" x2="537.50" y2="403.50" stroke="#1c1c9c" stroke-width="1.3" stroke-dasharray="0.9 1.8"/>
<rect x="537.50" y="402.80" width="5.30" height="1.4" fill="#1c1c9c"/>
<text x="556.90" y="401.60" font-size="4.6" font-style="italic" fill="#000">MT1B</text>
<path d="M570.17 399.50H574.37" stroke="#222" stroke-width="0.6" fill="none"/><path d="M573.57 398.60L575.37 399.50L573.57 400.40Z" fill="#222"/>
<rect x="566.05" y="402.50" width="0.7" height="2" fill="#1c1c9c"/>
<text x="589.30" y="401.60" font-size="4.6" font-style="italic" fill="#000">MIR138-2</text>
<path d="M610.50 399.50H614.70" stroke="#222" stroke-width="0.6" fill="none"/><path d="M613.90 398.60L615.70 399.50L613.90 400.40Z" fill="#222"/>
<rect x="603.15" y="402.50" width="0.7" height="2" fill="#1c1c9c"/>
<text x="625.10" y="401.60" font-size="4.6" font-style="italic" fill="#000">NLRC5</text>
<path d="M641.18 399.50H645.38" stroke="#222" stroke-width="0.6" fill="none"/><path d="M644.58 398.60L646.38 399.50L644.58 400.40Z" fill="#222"/>
<line x1="627.10" y1="403.50" x2="631.00" y2="403.50" stroke="#1c1c9c" stroke-width="0.45"/>
<line x1="627.10" y1="403.50" x2="631.00" y2="403.50" stroke="#1c1c9c" stroke-width="1.3" stroke-dasharray="0.9 1.8"/>
<rect x="631.00" y="402.80" width="13.00" height="1.4" fill="#1c1c9c"/>
<text x="655.60" y="401.60" font-size="4.6" font-style="italic" fill="#000">RSPRY1</text>
<path d="M674.84 399.50H679.04" stroke="#222" stroke-width="0.6" fill="none"/><path d="M678.24 398.60L680.04 399.50L678.24 400.40Z" fill="#222"/>
<line x1="662.00" y1="403.50" x2="665.00" y2="403.50" stroke="#1c1c9c" stroke-width="0.45"/>
<line x1="662.00" y1="403.50" x2="665.00" y2="403.50" stroke="#1c1c9c" stroke-width="1.3" stroke-dasharray="0.9 1.8"/>
<rect x="665.00" y="402.80" width="7.50" height="1.4" fill="#1c1c9c"/>
<text x="684.40" y="401.60" font-size="4.6" font-style="italic" fill="#000">CCL22</text>
<path d="M699.72 399.50H703.92" stroke="#222" stroke-width="0.6" fill="none"/><path d="M703.12 398.60L704.92 399.50L703.12 400.40Z" fill="#222"/>
<rect x="693.60" y="402.80" width="1.80" height="1.4" fill="#1c1c9c"/>
<text x="543.00" y="412.70" font-size="4.6" font-style="italic" fill="#000">MT4</text>
<path d="M553.20 410.50H557.40" stroke="#222" stroke-width="0.6" fill="none"/><path d="M556.60 409.60L558.40 410.50L556.60 411.40Z" fill="#222"/>
<rect x="550.15" y="413.60" width="0.7" height="2" fill="#1c1c9c"/>
<text x="562.30" y="412.70" font-size="4.6" font-style="italic" fill="#000">MT1X</text>
<path d="M575.57 410.50H579.77" stroke="#222" stroke-width="0.6" fill="none"/><path d="M578.97 409.60L580.77 410.50L578.97 411.40Z" fill="#222"/>
<rect x="571.25" y="413.60" width="0.7" height="2" fill="#1c1c9c"/>
<text x="596.50" y="412.70" font-size="4.6" font-style="italic" fill="#000">SLC12A3</text>
<path d="M617.19 410.50H621.39" stroke="#222" stroke-width="0.6" fill="none"/><path d="M620.59 409.60L622.39 410.50L620.59 411.40Z" fill="#222"/>
<rect x="604.30" y="413.90" width="9.90" height="1.4" fill="#1c1c9c"/>
<path d="M639.90 410.50H635.90" stroke="#222" stroke-width="0.6" fill="none"/><path d="M636.70 409.60L634.90 410.50L636.70 411.40Z" fill="#222"/>
<text x="641.30" y="412.70" font-size="4.6" font-style="italic" fill="#000">RP11–407G23.2</text>
<rect x="654.35" y="413.60" width="0.7" height="2" fill="#1c1c9c"/>
<text x="685.90" y="412.70" font-size="4.6" font-style="italic" fill="#000">CX3CL1</text>
<path d="M704.29 410.50H708.49" stroke="#222" stroke-width="0.6" fill="none"/><path d="M707.69 409.60L709.49 410.50L707.69 411.40Z" fill="#222"/>
<rect x="696.30" y="413.90" width="2.40" height="1.4" fill="#1c1c9c"/>
<text x="547.10" y="423.80" font-size="4.6" font-style="italic" fill="#000">MT2</text>
<path d="M557.30 421.50H561.50" stroke="#222" stroke-width="0.6" fill="none"/><path d="M560.70 420.60L562.50 421.50L560.70 422.40Z" fill="#222"/>
<rect x="554.15" y="424.70" width="0.7" height="2" fill="#1c1c9c"/>
<text x="599.30" y="423.80" font-size="4.6" font-style="italic" fill="#000">MIR6863</text>
<path d="M618.97 421.50H623.17" stroke="#222" stroke-width="0.6" fill="none"/><path d="M622.37 420.60L624.17 421.50L622.37 422.40Z" fill="#222"/>
<rect x="611.15" y="424.70" width="0.7" height="2" fill="#1c1c9c"/>
<text x="634.90" y="423.80" font-size="4.6" font-style="italic" fill="#000">RP11–407G23.5</text>
<path d="M669.83 421.50H674.03" stroke="#222" stroke-width="0.6" fill="none"/><path d="M673.23 420.60L675.03 421.50L673.23 422.40Z" fill="#222"/>
<rect x="654.65" y="424.70" width="0.7" height="2" fill="#1c1c9c"/>
<path d="M694.50 421.50H690.50" stroke="#222" stroke-width="0.6" fill="none"/><path d="M691.30 420.60L689.50 421.50L691.30 422.40Z" fill="#222"/>
<text x="695.90" y="423.80" font-size="4.6" font-style="italic" fill="#000">CIAPIN1</text>
<rect x="706.40" y="425.00" width="3.60" height="1.4" fill="#1c1c9c"/>
<line x1="556.6" y1="428.8" x2="556.6" y2="432.3" stroke="#555" stroke-width="0.7"/>
<text transform="translate(556.60 442.80) scale(0.88 1)" font-size="7.0" fill="#444" text-anchor="middle">56.6</text>
<line x1="592.5" y1="428.8" x2="592.5" y2="432.3" stroke="#555" stroke-width="0.7"/>
<text transform="translate(592.50 442.80) scale(0.88 1)" font-size="7.0" fill="#444" text-anchor="middle">56.8</text>
<line x1="628.8" y1="428.8" x2="628.8" y2="432.3" stroke="#555" stroke-width="0.7"/>
<text transform="translate(628.80 442.80) scale(0.88 1)" font-size="7.0" fill="#444" text-anchor="middle">57</text>
<line x1="665.0" y1="428.8" x2="665.0" y2="432.3" stroke="#555" stroke-width="0.7"/>
<text transform="translate(665.00 442.80) scale(0.88 1)" font-size="7.0" fill="#444" text-anchor="middle">57.2</text>
<line x1="701.2" y1="428.8" x2="701.2" y2="432.3" stroke="#555" stroke-width="0.7"/>
<text transform="translate(701.20 442.80) scale(0.88 1)" font-size="7.0" fill="#444" text-anchor="middle">57.4</text>
<text transform="translate(623.60 449.00) scale(0.86 1)" font-size="7.0" fill="#444" text-anchor="middle">Position on chr16 (Mb)</text>
<text transform="translate(720.90 405.20) scale(0.865 1)" font-size="7.0" fill="#444" text-anchor="start">33 genes</text>
<text transform="translate(720.90 414.10) scale(0.865 1)" font-size="7.0" fill="#444" text-anchor="start">omitted</text>
</svg>
</body></html>
